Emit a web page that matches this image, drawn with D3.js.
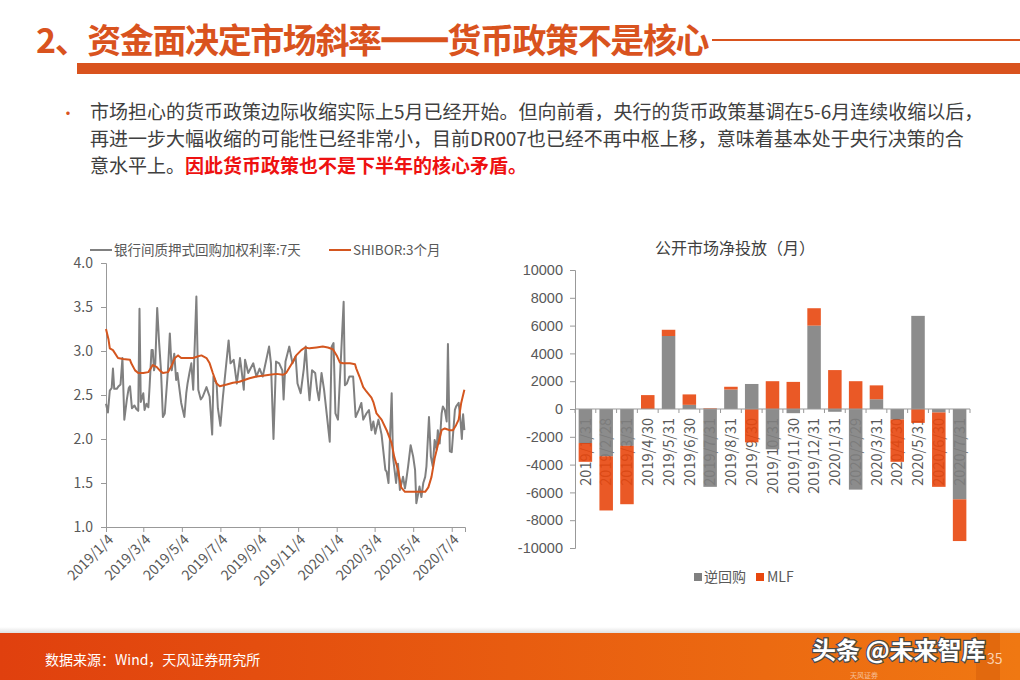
<!DOCTYPE html>
<html lang="zh">
<head>
<meta charset="utf-8">
<title>资金面决定市场斜率</title>
<script src="https://cdn.jsdelivr.net/npm/d3@7"></script>
<style>
  body { margin: 0; background: #fff; }
  svg { display: block; font-family: "Noto Sans CJK SC", "Open Sans", sans-serif; }
</style>
</head>
<body>
<script>
// ---- data ----
// 银行间质押式回购加权利率:7天
var repoDates = ["2019-01-04","2019-01-07","2019-01-10","2019-01-13","2019-01-15","2019-01-17","2019-01-21","2019-01-24","2019-01-27","2019-01-30",
  "2019-02-02","2019-02-06","2019-02-09","2019-02-11","2019-02-14","2019-02-18","2019-02-21","2019-02-24","2019-02-26","2019-02-28",
  "2019-03-04","2019-03-06","2019-03-09","2019-03-12","2019-03-14","2019-03-17","2019-03-19","2019-03-21","2019-03-23","2019-03-26","2019-03-29",
  "2019-04-01","2019-04-04","2019-04-07","2019-04-12","2019-04-15","2019-04-18","2019-04-22","2019-04-25","2019-04-27",
  "2019-05-03","2019-05-08","2019-05-11","2019-05-13","2019-05-16","2019-05-19","2019-05-22","2019-05-27","2019-05-30",
  "2019-06-03","2019-06-06","2019-06-12","2019-06-17","2019-06-21","2019-06-23","2019-06-28","2019-06-30",
  "2019-07-04","2019-07-08","2019-07-17","2019-07-20","2019-07-25","2019-07-30",
  "2019-08-04","2019-08-07","2019-08-10","2019-08-12","2019-08-17","2019-08-25","2019-08-30",
  "2019-09-04","2019-09-09","2019-09-19","2019-09-22","2019-09-26","2019-09-30",
  "2019-10-05","2019-10-10","2019-10-12","2019-10-15","2019-10-21","2019-10-26","2019-10-31",
  "2019-11-03","2019-11-08","2019-11-13","2019-11-16","2019-11-19","2019-11-22","2019-11-26",
  "2019-12-01","2019-12-04","2019-12-07","2019-12-11","2019-12-15","2019-12-24","2019-12-27","2019-12-30",
  "2020-01-02","2020-01-06","2020-01-15","2020-01-17","2020-01-20","2020-01-24","2020-01-30",
  "2020-02-03","2020-02-08","2020-02-12","2020-02-15","2020-02-20","2020-02-24","2020-02-28",
  "2020-03-02","2020-03-05","2020-03-10","2020-03-15","2020-03-21","2020-03-23","2020-03-26","2020-03-28","2020-03-31",
  "2020-04-02","2020-04-07","2020-04-10","2020-04-13","2020-04-18","2020-04-21","2020-04-23","2020-04-26","2020-04-30",
  "2020-05-04","2020-05-07","2020-05-09","2020-05-12","2020-05-14","2020-05-17","2020-05-20","2020-05-23","2020-05-25","2020-05-29",
  "2020-06-01","2020-06-04","2020-06-07","2020-06-10","2020-06-12","2020-06-15","2020-06-18","2020-06-20","2020-06-23","2020-06-26","2020-06-28",
  "2020-07-01","2020-07-04","2020-07-09","2020-07-11","2020-07-15","2020-07-18","2020-07-20","2020-07-22","2020-07-24"];
var repoValues = [2.40,2.30,2.55,2.58,2.80,2.57,2.57,2.60,2.62,2.92,
  2.22,2.45,2.58,2.60,2.35,2.38,2.34,2.32,3.48,2.42,
  2.52,2.33,2.40,2.36,2.60,3.01,3.01,2.78,2.86,3.49,3.10,
  2.78,2.25,2.29,2.78,3.20,2.78,2.97,2.67,2.75,
  2.41,2.25,2.52,2.63,2.75,2.86,2.56,3.62,2.56,
  2.45,2.48,2.59,2.48,2.05,2.71,2.63,2.35,
  2.15,2.48,3.12,2.86,2.90,2.63,
  2.92,2.75,2.56,2.90,2.75,2.86,2.71,
  2.80,2.71,3.05,2.86,2.00,2.88,
  2.86,2.78,2.45,2.88,3.05,2.86,2.94,
  2.63,2.52,2.80,3.05,2.71,2.44,2.78,
  2.75,2.56,2.44,2.75,2.56,1.97,3.05,3.09,
  2.29,2.22,3.56,2.61,2.63,2.71,2.71,
  2.25,2.33,2.41,2.22,2.29,2.33,2.10,
  2.20,2.06,2.22,2.05,1.65,1.63,1.50,1.95,2.52,
  1.80,1.50,1.72,1.42,1.57,1.44,1.53,1.69,1.93,
  1.80,1.65,1.27,1.38,1.46,1.34,1.50,1.57,1.69,2.25,
  1.80,1.69,1.99,1.88,2.10,1.95,2.29,2.37,2.33,2.20,3.08,
  1.86,1.85,2.33,2.37,2.41,2.20,2.00,2.28,2.10];

// SHIBOR:3个月
var shiborDates = ["2019-01-04","2019-01-08","2019-01-10","2019-01-15","2019-01-23","2019-01-31","2019-02-11","2019-02-13","2019-02-19","2019-02-24",
  "2019-03-04","2019-03-12","2019-03-19","2019-03-25","2019-03-30","2019-04-04","2019-04-12","2019-04-17","2019-04-23","2019-04-28",
  "2019-05-03","2019-05-11","2019-05-22","2019-05-30","2019-06-04","2019-06-12","2019-06-17","2019-06-22","2019-06-28",
  "2019-07-03","2019-07-14","2019-07-24","2019-08-03","2019-08-11","2019-08-19","2019-08-30","2019-09-09","2019-09-20",
  "2019-10-01","2019-10-11","2019-10-16","2019-10-22","2019-10-27","2019-11-01","2019-11-09","2019-11-15","2019-11-22",
  "2019-12-03","2019-12-13","2019-12-21","2019-12-29","2020-01-04","2020-01-09","2020-01-14","2020-01-25",
  "2020-02-02","2020-02-04","2020-02-09","2020-02-15","2020-02-20","2020-02-28","2020-03-02","2020-03-07","2020-03-15","2020-03-23","2020-03-31",
  "2020-04-04","2020-04-10","2020-04-15","2020-04-21","2020-04-29","2020-05-09","2020-05-23","2020-05-28",
  "2020-06-02","2020-06-07","2020-06-12","2020-06-18","2020-06-23","2020-07-01","2020-07-06","2020-07-11","2020-07-15","2020-07-19","2020-07-24"];
var shiborValues = [3.25,3.13,3.03,3.01,2.92,2.91,2.90,2.86,2.78,2.75,
  2.75,2.76,2.84,2.82,2.78,2.75,2.76,2.82,2.92,2.95,
  2.92,2.92,2.92,2.94,2.95,2.92,2.86,2.75,2.63,
  2.60,2.62,2.64,2.65,2.67,2.69,2.71,2.72,2.73,
  2.74,2.73,2.75,2.82,2.88,2.95,3.01,3.04,3.03,
  3.04,3.05,3.04,3.02,2.95,2.87,2.86,2.86,
  2.85,2.80,2.71,2.59,2.54,2.47,2.42,2.29,2.22,2.10,1.95,
  1.80,1.65,1.45,1.40,1.40,1.40,1.40,1.45,
  1.57,1.78,1.93,2.10,2.12,2.10,2.10,2.16,2.22,2.41,2.56];

var leftTickDates = ["2019-01-04","2019-03-04","2019-05-04","2019-07-04","2019-09-04","2019-11-04","2020-01-04","2020-03-04","2020-05-04","2020-07-04"];
var leftYTicks = [1.0, 1.5, 2.0, 2.5, 3.0, 3.5, 4.0];

// 公开市场净投放（月）
var months = ["2019/1/31","2019/2/28","2019/3/31","2019/4/30","2019/5/31","2019/6/30","2019/7/31","2019/8/31","2019/9/30","2019/10/31",
  "2019/11/30","2019/12/31","2020/1/31","2020/2/29","2020/3/31","2020/4/30","2020/5/31","2020/6/30","2020/7/31"];
var reverseRepo = [-2450,-3400,-2650,0,5250,300,-5600,1400,1800,-2900,-300,6000,-200,-5800,700,-750,6700,-250,-6500];
var mlf = [-1350,-3900,-4200,1000,450,750,50,200,-2400,2000,1950,1250,2800,2000,1000,-3050,-1000,-5350,-3000];
var rightYTicks = [-10000,-8000,-6000,-4000,-2000,0,2000,4000,6000,8000,10000];

// ---- page ----
var W = 1020, H = 680;
var ORANGE = "#d9531e";
var svg = d3.select("body").append("svg").attr("width", W).attr("height", H);

var defs = svg.append("defs");
var fg = defs.append("linearGradient").attr("id", "footGrad");
fg.append("stop").attr("offset", "0%").attr("stop-color", "#e0400e");
fg.append("stop").attr("offset", "100%").attr("stop-color", "#f07812");
var sg = defs.append("linearGradient").attr("id", "footShade").attr("x1", 0).attr("x2", 0).attr("y1", 0).attr("y2", 1);
sg.append("stop").attr("offset", "0%").attr("stop-color", "#000").attr("stop-opacity", 0);
sg.append("stop").attr("offset", "100%").attr("stop-color", "#000").attr("stop-opacity", 0.12);

// title
svg.append("rect").attr("x", 77).attr("y", 63).attr("width", W - 77).attr("height", 11).attr("fill", ORANGE);
svg.append("line").attr("x1", 712).attr("x2", W).attr("y1", 40).attr("y2", 40)
  .attr("stroke", ORANGE).attr("stroke-width", 2);
var title = svg.append("text").attr("x", 36).attr("y", 53)
  .attr("font-size", 34).attr("font-weight", "bold").attr("fill", ORANGE)
  .attr("letter-spacing", -1.4);
title.append("tspan").text("2、资金面决定市场斜率");
title.append("tspan").attr("stroke", ORANGE).attr("stroke-width", 3.5).text("——");
title.append("tspan").text("货币政策不是核心");

// body text
svg.append("text").attr("x", 60).attr("y", 119).attr("font-size", 16).attr("fill", ORANGE).text("•");
var body = svg.append("g").attr("font-size", 19).attr("fill", "#404040");
body.append("text").attr("x", 90).attr("y", 119)
  .text("市场担心的货币政策边际收缩实际上5月已经开始。但向前看，央行的货币政策基调在5-6月连续收缩以后，");
body.append("text").attr("x", 90).attr("y", 146)
  .text("再进一步大幅收缩的可能性已经非常小，目前DR007也已经不再中枢上移，意味着基本处于央行决策的合");
var l3 = body.append("text").attr("x", 90).attr("y", 173);
l3.append("tspan").text("意水平上。");
l3.append("tspan").attr("fill", "#ee1111").attr("font-weight", "bold").text("因此货币政策也不是下半年的核心矛盾。");

// ---- left chart ----
var parse = d3.timeParse("%Y-%m-%d");
var repo = repoDates.map(function(d, i) { return { date: parse(d), value: repoValues[i] }; });
var shibor = shiborDates.map(function(d, i) { return { date: parse(d), value: shiborValues[i] }; });

var xL = d3.scaleTime().domain([parse("2019-01-04"), parse("2020-07-25")]).range([106, 465]);
var yL = d3.scaleLinear().domain([1, 4]).range([527, 263]);

var left = svg.append("g");
var axL = left.append("g").attr("transform", "translate(106,0)")
  .call(d3.axisLeft(yL).tickValues(leftYTicks).tickFormat(d3.format(".1f")).tickSize(5).tickPadding(8));
var axB = left.append("g").attr("transform", "translate(0,527)")
  .call(d3.axisBottom(xL).tickValues(leftTickDates.map(parse)).tickFormat(d3.timeFormat("%Y/%-m/%-d")).tickSize(5));
axB.selectAll("text")
  .attr("text-anchor", "end")
  .attr("transform", "rotate(-45)")
  .attr("dx", "-0.3em").attr("dy", "0.5em");
[axL, axB].forEach(function(a) {
  a.select(".domain").attr("stroke", "#999");
  a.selectAll(".tick line").attr("stroke", "#999");
  a.selectAll("text").attr("fill", "#595959").attr("font-size", 14).attr("font-family", "Noto Sans CJK SC");
});

var lineL = d3.line().x(function(d) { return xL(d.date); }).y(function(d) { return yL(d.value); });
left.append("path").datum(repo).attr("d", lineL).attr("fill", "none")
  .attr("stroke", "#808080").attr("stroke-width", 2).attr("stroke-linejoin", "round");
left.append("path").datum(shibor).attr("d", lineL).attr("fill", "none")
  .attr("stroke", "#d4561f").attr("stroke-width", 2).attr("stroke-linejoin", "round");

// legend
var lg = left.append("g").attr("font-size", 13.5).attr("fill", "#595959");
lg.append("line").attr("x1", 90).attr("x2", 112).attr("y1", 250).attr("y2", 250).attr("stroke", "#808080").attr("stroke-width", 2);
lg.append("text").attr("x", 114).attr("y", 255).text("银行间质押式回购加权利率:7天");
lg.append("line").attr("x1", 329).attr("x2", 351).attr("y1", 250).attr("y2", 250).attr("stroke", "#d4561f").attr("stroke-width", 2);
lg.append("text").attr("x", 353).attr("y", 255).text("SHIBOR:3个月");

// ---- right chart ----
var xR = d3.scaleBand().domain(months).range([575, 970]).paddingInner(0.35).paddingOuter(0.175);
var yR = d3.scaleLinear().domain([-10000, 10000]).range([548, 270]);
var colors = { reverseRepo: "#808080", mlf: "#e8470e" };

var table = months.map(function(m, i) { return { month: m, reverseRepo: reverseRepo[i], mlf: mlf[i] }; });
var stacked = d3.stack().keys(["reverseRepo", "mlf"]).offset(d3.stackOffsetDiverging)(table);

var right = svg.append("g");
right.append("text").attr("x", 735).attr("y", 254).attr("text-anchor", "middle")
  .attr("font-size", 16).attr("fill", "#404040").text("公开市场净投放（月）");

var axR = right.append("g").attr("transform", "translate(575,0)")
  .call(d3.axisLeft(yR).tickValues(rightYTicks).tickFormat(function(d) { return String(d); }).tickSize(5).tickPadding(7));
axR.select(".domain").attr("stroke", "#999");
axR.selectAll(".tick line").attr("stroke", "#999");
axR.selectAll("text").attr("fill", "#595959").attr("font-size", 14.5);

// category labels sit under the bars
right.append("g").selectAll("text").data(months).enter().append("text")
  .attr("transform", function(d) { return "translate(" + (xR(d) + xR.bandwidth() / 2) + "," + (yR(0) + 9) + ") rotate(-90)"; })
  .attr("text-anchor", "end").attr("dy", "0.36em")
  .attr("font-size", 14.5).attr("fill", "#595959")
  .text(function(d) { return d; });

right.append("g").selectAll("g").data(stacked).enter().append("g")
  .attr("fill", function(s) { return colors[s.key]; })
  .attr("fill-opacity", 0.9)
  .selectAll("rect").data(function(s) { return s; }).enter().append("rect")
  .attr("x", function(d) { return xR(d.data.month); })
  .attr("width", xR.bandwidth())
  .attr("y", function(d) { return yR(Math.max(d[0], d[1])); })
  .attr("height", function(d) { return Math.abs(yR(d[0]) - yR(d[1])); });

// zero axis with ticks between categories
var gap = xR.step() * xR.paddingInner() / 2;
var bounds = months.map(function(m) { return xR(m) - gap; }).concat([xR(months[months.length - 1]) + xR.bandwidth() + gap]);
right.append("line").attr("x1", 575).attr("x2", 970).attr("y1", yR(0)).attr("y2", yR(0)).attr("stroke", "#999");
right.append("g").selectAll("line").data(bounds).enter().append("line")
  .attr("x1", function(d) { return d; }).attr("x2", function(d) { return d; })
  .attr("y1", yR(0)).attr("y2", yR(0) + 4).attr("stroke", "#999");

// legend
var rl = right.append("g").attr("font-size", 14).attr("fill", "#595959");
rl.append("rect").attr("x", 694).attr("y", 573).attr("width", 8).attr("height", 8).attr("fill", colors.reverseRepo);
rl.append("text").attr("x", 704).attr("y", 582).text("逆回购");
rl.append("rect").attr("x", 756).attr("y", 573).attr("width", 8).attr("height", 8).attr("fill", colors.mlf);
rl.append("text").attr("x", 767).attr("y", 582).text("MLF");

// ---- footer ----
svg.append("rect").attr("x", 0).attr("y", 627).attr("width", W).attr("height", 6).attr("fill", "url(#footShade)");
svg.append("rect").attr("x", 0).attr("y", 633).attr("width", W).attr("height", H - 633).attr("fill", "url(#footGrad)");
svg.append("rect").attr("x", 976).attr("y", 633).attr("width", 24).attr("height", H - 633).attr("fill", "#d8600c").attr("opacity", 0.6);
svg.append("text").attr("x", 45).attr("y", 665).attr("font-size", 14).attr("fill", "#fff")
  .text("数据来源：Wind，天风证券研究所");
svg.append("text").attr("x", 850).attr("y", 678).attr("font-size", 7).attr("fill", "#fff").attr("opacity", 0.55).text("天风证券");
svg.append("text").attr("x", 987).attr("y", 664).attr("font-size", 14).attr("fill", "#fbd2b0").text("35");
svg.append("text").attr("x", 812).attr("y", 659).attr("font-size", 24).attr("font-weight", "bold")
  .attr("fill", "#fff").attr("stroke", "#4a4a4a").attr("stroke-width", 2.5).attr("paint-order", "stroke")
  .text("头条 @未来智库");
</script>
</body>
</html>
